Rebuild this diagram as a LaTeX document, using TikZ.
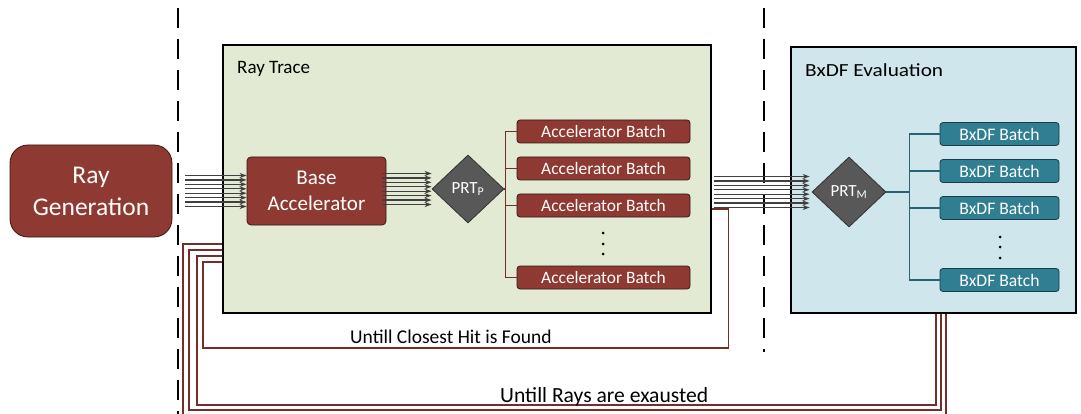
\documentclass[tikz,border=0pt]{standalone}
\usepackage{fontspec}
\setmainfont{Carlito}
\newfontfamily\widefont[FakeStretch=1.15]{Carlito}
\usetikzlibrary{shapes.geometric,arrows.meta,calc}

\definecolor{rayred}{RGB}{143,57,51}
\definecolor{rayredline}{RGB}{55,24,21}
\definecolor{loopred}{RGB}{118,44,40}
\definecolor{tracebg}{RGB}{227,234,212}
\definecolor{bxdfbg}{RGB}{208,230,237}
\definecolor{batchteal}{RGB}{47,126,145}
\definecolor{batchtealline}{RGB}{25,60,70}
\definecolor{branchteal}{RGB}{38,100,116}
\definecolor{prtgray}{RGB}{88,88,88}
\definecolor{prtline}{RGB}{50,50,50}
\definecolor{bundlegray}{RGB}{64,64,64}

\newcommand{\fsz}[2][1.2]{\fontsize{#2}{#1\dimexpr #2pt\relax}\selectfont}

\begin{document}
\begin{tikzpicture}[x=1pt,y=-1pt,
  stage/.style={draw=black,line width=1.3pt,inner sep=0pt},
  unitbox/.style={draw=rayredline,fill=rayred,line width=0.8pt,text=white,
    inner sep=0pt,align=center},
  accbatch/.style={unitbox,rounded corners=3pt,minimum width=173pt,
    minimum height=23pt,font=\fsz{17.4}},
  bxbatch/.style={draw=batchtealline,fill=batchteal,line width=0.8pt,text=white,
    inner sep=0pt,rounded corners=3pt,minimum width=119pt,minimum height=23pt,
    font=\fsz{17.6}},
  router/.style={diamond,draw=prtline,fill=prtgray,line width=0.8pt,text=white,
    inner sep=0pt,font=\fsz{17}},
  bundle/.style={draw=bundlegray,line width=1.2pt,
    -{Stealth[length=7pt,width=5pt]}},
  redbranch/.style={draw=loopred,line width=1.2pt},
  tealbranch/.style={draw=branchteal,line width=1.2pt},
  loopline/.style={draw=loopred,line width=1.6pt},
  divider/.style={draw=black,line width=2.8pt,dash pattern=on 20pt off 11pt},
  stagelabel/.style={anchor=base west,inner sep=0pt,font=\fsz{19}},
  looplabel/.style={anchor=base west,inner sep=0pt,font=\fsz{19.5}},
  dot/.style={fill=black,circle,inner sep=0pt,minimum size=3pt}
]
\useasboundingbox (0,0) rectangle (1081,414);
\clip (0,0) rectangle (1081,414);

% stage dividers
\draw[divider] (178,8) -- (178,416);
\draw[divider] (764,8) -- (764,352);

% stage containers
\node[stage,fill=tracebg,minimum width=488pt,minimum height=268pt] (rt) at (467,179) {};
\node[stage,fill=bxdfbg,minimum width=285pt,minimum height=266pt] (bx) at (933.5,180) {};
\node[stagelabel] (rtlabel) at (237,74) {Ray Trace};
\node[stagelabel,font=\widefont\fsz{18.5}] (bxlabel) at (805,77) {BxDF Evaluation};

% ray generation
\node[unitbox,rounded corners=18pt,minimum width=162pt,minimum height=92pt,
  font=\fontsize{25.5}{32}\selectfont,text width=150pt] (rg) at (91,191)
  {Ray\\Generation};

% base accelerator
\node[unitbox,rounded corners=4pt,minimum width=139pt,minimum height=68pt,
  font=\fontsize{21}{26}\selectfont,text width=130pt] (ba) at (316.5,191)
  {Base\\Accelerator};

% primary ray router
\node[router,minimum width=72pt,minimum height=68pt] (p) at (468,189)
  {PRT\textsubscript{P}};

% accelerator batches
\node[accbatch] (ab1) at (603.5,131.5) {Accelerator Batch};
\node[accbatch] (ab2) at (603.5,168.5) {Accelerator Batch};
\node[accbatch] (ab3) at (603.5,205.5) {Accelerator Batch};
\node[accbatch] (ab4) at (603.5,277.5) {Accelerator Batch};
\node[dot] (ad1) at (603,233) {};
\node[dot] (ad2) at (603,244) {};
\node[dot] (ad3) at (603,254) {};

\foreach \b in {ab1,ab2,ab3,ab4}
  \draw[redbranch] (p.east) -- ++(1,0) |- (\b.west);

% material router
\node[router,minimum width=74pt,minimum height=70pt] (m) at (849,192)
  {PRT\textsubscript{M}};

% bxdf batches
\node[bxbatch] (bb1) at (999.5,134) {BxDF Batch};
\node[bxbatch] (bb2) at (999.5,171) {BxDF Batch};
\node[bxbatch] (bb3) at (999.5,208) {BxDF Batch};
\node[bxbatch] (bb4) at (999.5,280) {BxDF Batch};
\node[dot] (bd1) at (1000,237) {};
\node[dot] (bd2) at (1000,247) {};
\node[dot] (bd3) at (1000,258) {};

\foreach \b in {bb1,bb2,bb3,bb4}
  \draw[tealbranch] (m.east) -- ++(23,0) |- (\b.west);

% ray bundles
\foreach \k in {0,...,7}{
  \pgfmathsetmacro\dy{-15.5+\k*31/7}
  \draw[bundle] ($(rg.east)+(13,\dy)$) -- ($(ba.west)+(0,\dy)$);
  \draw[bundle] ($(p.west -| ba.east)+(-4,\dy)$) -- ($(p.west)+(0,\dy)$);
  \draw[bundle] ($(m.west -| rt.east)+(2,\dy)$) -- ($(m.west)+(-2,\dy)$);
}

% feedback loops
\coordinate (hitout) at ($(rt.east)+(0,30)$);
\coordinate (hitin) at ($(rt.west)+(0,83)$);
\draw[loopline] (hitout) -- ++(17,0) |- (203,348) |- (hitin);

\coordinate (sa) at ($(bx.south)+(2.5,0)$);
\coordinate (sb) at ($(bx.south)+(7.5,0)$);
\coordinate (sc) at ($(bx.south)+(12.5,0)$);
\coordinate (ea) at ($(rt.west)+(0,77)$);
\coordinate (eb) at ($(rt.west)+(0,71)$);
\coordinate (ec) at ($(rt.west)+(0,65)$);
\draw[loopline] (sa) |- (197,405) |- (ea);
\draw[loopline] (sb) |- (189,410) |- (eb);
\draw[loopline] (sc) |- (183,418) |- (ec);

\node[looplabel] (hitlabel) at (350,343) {Untill Closest Hit is Found};
\node[looplabel,font=\fsz{21.6}] (raylabel) at (500,402) {Untill Rays are exausted};
\end{tikzpicture}
\end{document}
